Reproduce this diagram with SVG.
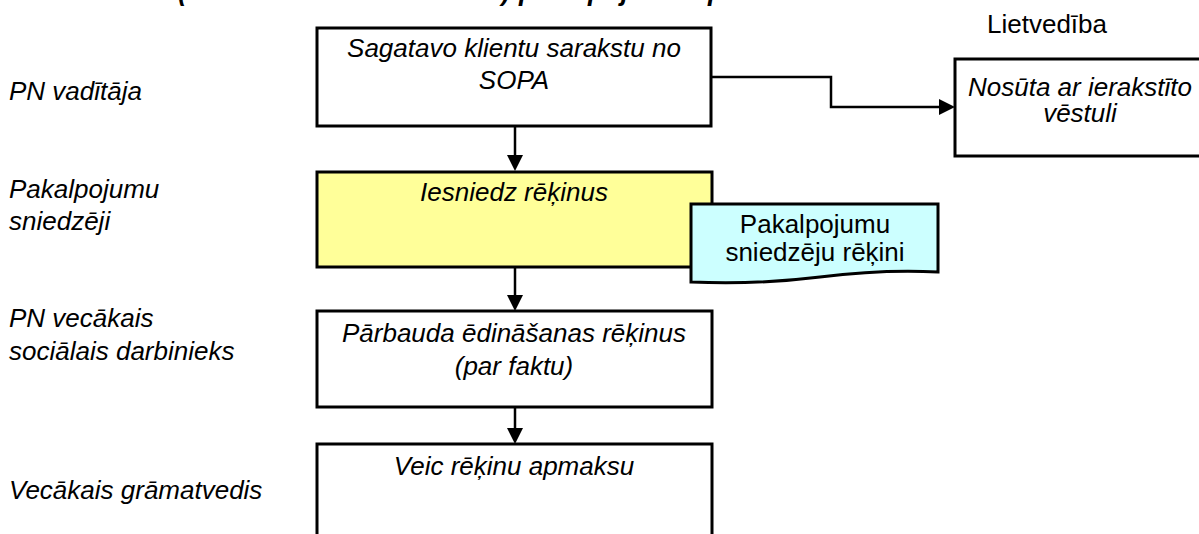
<svg xmlns="http://www.w3.org/2000/svg" width="1199" height="534" viewBox="0 0 1199 534">
  <style>
    .box { fill: #ffffff; stroke: #000000; stroke-width: 3; }
    .proc { fill: #ffff99; }
    .doc { fill: #ccffff; stroke: #000000; stroke-width: 3; }
    .t { font-family: "Liberation Sans", Arial, sans-serif; font-size: 26px; fill: #000000; }
    .i { font-style: italic; }
    .mid { text-anchor: middle; }
    .title { font-family: "Liberation Sans", Arial, sans-serif; font-size: 27px; font-weight: bold; font-style: italic; fill: #000000; }
    .conn { fill: none; stroke: #000000; stroke-width: 2.5; }
  </style>
  <defs>
    <marker id="arrow" viewBox="0 0 16 16" refX="10" refY="8" markerWidth="16" markerHeight="16" markerUnits="userSpaceOnUse" orient="auto">
      <path d="M0,0 L16,8 L0,16 Z" fill="#000000"/>
    </marker>
  </defs>

  <rect width="1199" height="534" fill="#ffffff"/>

  <!-- heading, mostly above the top edge -->
  <text class="title" y="0">
    <tspan x="45">Ēdināšana</tspan>
    <tspan x="178" textLength="332" lengthAdjust="spacingAndGlyphs">(klientu ēdināšanas maksa)</tspan>
    <tspan x="519">pakalpojumu apmaksa</tspan>
  </text>

  <!-- role labels -->
  <g id="roles">
    <text class="t i" x="9" y="100">PN vadītāja</text>
    <text class="t i" x="9" y="198">Pakalpojumu</text>
    <text class="t i" x="9" y="230">sniedzēji</text>
    <text class="t i" x="9" y="327">PN vecākais</text>
    <text class="t i" x="9" y="360">sociālais darbinieks</text>
    <text class="t i" x="9" y="499">Vecākais grāmatvedis</text>
    <text class="t" x="987" y="33">Lietvedība</text>
  </g>

  <!-- connectors -->
  <g id="connectors">
    <path class="conn" d="M515,126 V165" marker-end="url(#arrow)"/>
    <path class="conn" d="M711,77 H831 V107 H949" marker-end="url(#arrow)"/>
    <path class="conn" d="M515,267 V305" marker-end="url(#arrow)"/>
    <path class="conn" d="M515,407 V438" marker-end="url(#arrow)"/>
  </g>

  <g id="n-sagatavo">
    <rect class="box" x="317" y="28" width="394" height="98"/>
    <text class="t i mid" x="514" y="57">Sagatavo klientu sarakstu no</text>
    <text class="t i mid" x="514" y="89">SOPA</text>
  </g>

  <g id="n-nosuta">
    <rect class="box" x="955" y="59" width="262" height="97"/>
    <text class="t i mid" x="1080" y="96">Nosūta ar ierakstīto</text>
    <text class="t i mid" x="1080" y="122">vēstuli</text>
  </g>

  <g id="n-iesniedz">
    <rect class="box proc" x="317" y="172" width="395" height="95"/>
    <text class="t i mid" x="514" y="201">Iesniedz rēķinus</text>
  </g>

  <g id="n-rekini">
    <path class="doc" d="M691,204 H938 V272 C900,270 860,272 820,277 C780,282 740,284 691,282 Z"/>
    <text class="t mid" x="815" y="233">Pakalpojumu</text>
    <text class="t mid" x="815" y="261">sniedzēju rēķini</text>
  </g>

  <g id="n-parbauda">
    <rect class="box" x="317" y="311" width="395" height="96"/>
    <text class="t i mid" x="514" y="342">Pārbauda ēdināšanas rēķinus</text>
    <text class="t i mid" x="514" y="375">(par faktu)</text>
  </g>

  <g id="n-veic">
    <rect class="box" x="317" y="444" width="395" height="120"/>
    <text class="t i mid" x="514" y="475">Veic rēķinu apmaksu</text>
  </g>
</svg>
